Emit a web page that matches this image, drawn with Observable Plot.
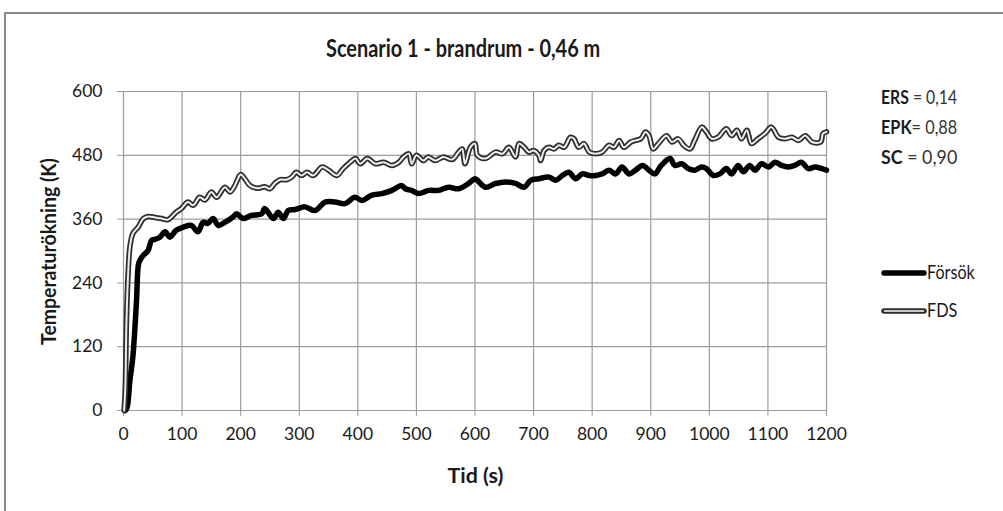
<!DOCTYPE html>
<html>
<head>
<meta charset="utf-8">
<script src="https://cdn.jsdelivr.net/npm/d3@7"></script>
<script src="https://cdn.jsdelivr.net/npm/@observablehq/plot@0.6"></script>
<style>
  html, body { margin: 0; padding: 0; background: #fff; }
  #wrap { position: relative; width: 1003px; height: 511px; overflow: hidden; font-family: Lato, "Open Sans", sans-serif; color: #1a1a1a; }
  #frame { position: absolute; left: 4px; top: 12px; width: 1200px; height: 700px; border: 2px solid #8a8a8a; box-sizing: border-box; }
  #chart { position: absolute; left: 0; top: 0; }
  .abs { position: absolute; white-space: nowrap; line-height: 1; }
  .ctr { transform-origin: 50% 50%; }
  .lft { transform-origin: 0 50%; }
  .leg svg { position: absolute; }
</style>
</head>
<body>
<div id="wrap">
  <div id="frame"></div>
  <div id="chart"></div>
  <div id="texts"></div>
</div>
<script>
// ---- data ----
const titleText = "Scenario 1 - brandrum - 0,46 m";
const xTitle = "Tid (s)";
const yTitle = "Temperaturökning (K)";
const xTicks = [0, 100, 200, 300, 400, 500, 600, 700, 800, 900, 1000, 1100, 1200];
const yTicks = [0, 120, 240, 360, 480, 600];
const seriesNames = ["Försök", "FDS"];
const statNames = ["ERS", "EPK", "SC"];
const statValues = ["0,14", "0,88", "0,90"];

const forsokT = [3, 6, 11, 16, 22, 26, 30, 34, 42, 48, 54, 62, 71, 79, 90, 102, 116, 127, 136, 144, 153, 162, 173, 187, 193, 204, 218, 236, 241, 256, 264, 273, 281, 293, 310, 327, 344, 361, 378, 395, 407, 424, 441, 458, 475, 481, 492, 504, 521, 538, 555, 572, 589, 600, 604, 618, 635, 652, 669, 684, 695, 709, 726, 738, 749, 760, 772, 783, 795, 806, 817, 829, 840, 851, 863, 874, 886, 897, 907, 918, 933, 941, 953, 964, 975, 987, 995, 1007, 1018, 1029, 1038, 1049, 1058, 1069, 1078, 1089, 1101, 1112, 1123, 1135, 1146, 1157, 1169, 1180, 1192, 1200];
const forsokV = [0, 5, 57, 101, 202, 277, 286, 292, 301, 320, 322, 326, 336, 326, 339, 345, 348, 336, 354, 352, 361, 348, 354, 364, 370, 361, 367, 370, 380, 361, 373, 361, 376, 378, 383, 376, 392, 392, 389, 401, 395, 405, 408, 414, 423, 417, 414, 408, 414, 414, 420, 417, 427, 436, 433, 420, 427, 430, 427, 420, 433, 436, 439, 433, 442, 448, 436, 445, 442, 442, 445, 452, 445, 458, 445, 452, 461, 452, 445, 461, 474, 461, 464, 455, 452, 458, 455, 442, 445, 455, 445, 461, 449, 461, 452, 464, 458, 467, 461, 458, 461, 467, 455, 458, 455, 452];

const fdsT = [1, 3, 5, 8, 11, 16, 25, 34, 42, 54, 65, 76, 90, 99, 110, 119, 130, 139, 150, 159, 173, 182, 190, 200, 207, 216, 230, 241, 250, 258, 267, 278, 287, 295, 304, 313, 324, 339, 350, 364, 375, 387, 396, 404, 416, 430, 444, 458, 470, 478, 487, 492, 500, 512, 520, 532, 546, 561, 572, 578, 583, 592, 600, 604, 618, 635, 647, 658, 669, 675, 684, 692, 700, 709, 712, 718, 726, 735, 743, 752, 763, 769, 777, 786, 795, 806, 817, 829, 837, 846, 854, 866, 874, 883, 891, 897, 904, 913, 927, 936, 947, 956, 967, 975, 987, 995, 1004, 1015, 1029, 1038, 1047, 1055, 1064, 1072, 1083, 1095, 1106, 1118, 1129, 1141, 1152, 1164, 1175, 1190, 1194, 1200];
const fdsV = [0, 40, 164, 260, 308, 333, 345, 361, 365, 363, 361, 359, 373, 380, 392, 386, 401, 396, 411, 401, 420, 411, 423, 444, 436, 423, 418, 421, 417, 427, 434, 434, 439, 448, 442, 448, 442, 458, 452, 442, 455, 467, 474, 464, 474, 464, 467, 461, 467, 477, 483, 464, 480, 470, 477, 470, 477, 472, 486, 492, 464, 495, 502, 480, 474, 486, 483, 495, 477, 502, 495, 486, 489, 480, 470, 489, 495, 492, 499, 495, 514, 511, 495, 502, 486, 483, 486, 499, 495, 508, 495, 505, 508, 511, 524, 517, 492, 502, 517, 505, 511, 499, 492, 508, 533, 524, 511, 514, 530, 517, 527, 511, 527, 502, 511, 521, 533, 514, 511, 514, 508, 517, 505, 505, 521, 524];

// ---- build ----
const forsok = forsokT.map((t, i) => ({t, v: forsokV[i]}));
const fds = fdsT.map((t, i) => ({t, v: fdsV[i]}));
const gridColor = "#9c9c9c";

const chart = Plot.plot({
  width: 1003,
  height: 511,
  marginLeft: 123,
  marginRight: 177,
  marginTop: 91,
  marginBottom: 101,
  x: {domain: [0, 1200]},
  y: {domain: [0, 600]},
  style: {fontFamily: "Lato, sans-serif", fontSize: "17.5px", color: "#1a1a1a", background: "transparent", overflow: "visible"},
  marks: [
    Plot.gridX(xTicks, {stroke: gridColor, strokeOpacity: 1, strokeWidth: 1.2}),
    Plot.gridY(yTicks, {stroke: gridColor, strokeOpacity: 1, strokeWidth: 1.2}),
    Plot.axisX(xTicks, {tickSize: 6, tickPadding: 11, stroke: gridColor, fill: "#1a1a1a", label: null, tickFormat: d => String(d)}),
    Plot.axisY(yTicks, {tickSize: 6, tickPadding: 15, stroke: gridColor, fill: "#1a1a1a", label: null, tickFormat: d => String(d)}),
    Plot.line(forsok, {x: "t", y: "v", stroke: "#000", strokeWidth: 5.5, curve: "catmull-rom"}),
    Plot.line(fds, {x: "t", y: "v", stroke: "#2e2e2e", strokeWidth: 5.5, curve: "catmull-rom"}),
    Plot.line(fds, {x: "t", y: "v", stroke: "#ededed", strokeWidth: 2, curve: "catmull-rom"})
  ]
});
document.getElementById("chart").appendChild(chart);

// ---- text overlays (fit to reference widths) ----
const host = document.getElementById("texts");
function addText(html, opts) {
  const d = document.createElement("div");
  d.className = "abs " + (opts.anchor === "left" ? "lft" : "ctr");
  d.style.fontSize = opts.size + "px";
  d.style.fontWeight = opts.bold ? "bold" : "normal";
  d.innerHTML = html;
  host.appendChild(d);
  const w = d.offsetWidth, h = d.offsetHeight;
  const k = opts.width ? opts.width / w : 1;
  if (opts.anchor === "left") {
    d.style.left = opts.x + "px";
    d.style.top = (opts.y - h / 2) + "px";
    d.style.transform = `scaleX(${k})`;
  } else {
    d.style.left = (opts.x - w / 2) + "px";
    d.style.top = (opts.y - h / 2) + "px";
    d.style.transform = (opts.rotate ? `rotate(${opts.rotate}deg) ` : "") + `scaleX(${k})`;
  }
  return d;
}

addText(titleText, {x: 463, y: 47, size: 25, bold: true, width: 274});
addText(xTitle, {x: 475, y: 474, size: 21, bold: true, width: 56});
addText(yTitle, {x: 48, y: 251, size: 21, bold: true, width: 187, rotate: -90});

statNames.forEach((n, i) => {
  const sep = n === "EPK" ? "= " : " = ";
  addText(`<b>${n}</b><span style="color:#333">${sep}${statValues[i]}</span>`,
    {x: 881, y: 97 + i * 30, size: 19.5, anchor: "left", width: 76});
});

seriesNames.forEach((n, i) => {
  const y = 273 + i * 37.5;
  addText(n, {x: 927, y: y - 1, size: 19.5, anchor: "left", width: i === 0 ? 48 : 30});
  const svgNS = "http://www.w3.org/2000/svg";
  const s = document.createElementNS(svgNS, "svg");
  s.setAttribute("width", "50"); s.setAttribute("height", "12");
  s.style.position = "absolute"; s.style.left = "879px"; s.style.top = (y - 6) + "px";
  const mk = (stroke, w, cap) => {
    const l = document.createElementNS(svgNS, "line");
    l.setAttribute("x1", 5); l.setAttribute("x2", 45); l.setAttribute("y1", 6); l.setAttribute("y2", 6);
    l.setAttribute("stroke", stroke); l.setAttribute("stroke-width", w);
    if (cap) l.setAttribute("stroke-linecap", "round");
    s.appendChild(l);
  };
  if (i === 0) mk("#000", 5.5, true);
  else { mk("#2e2e2e", 5.5, true); mk("#c8c8c8", 2, false); }
  host.appendChild(s);
});
</script>
</body>
</html>
